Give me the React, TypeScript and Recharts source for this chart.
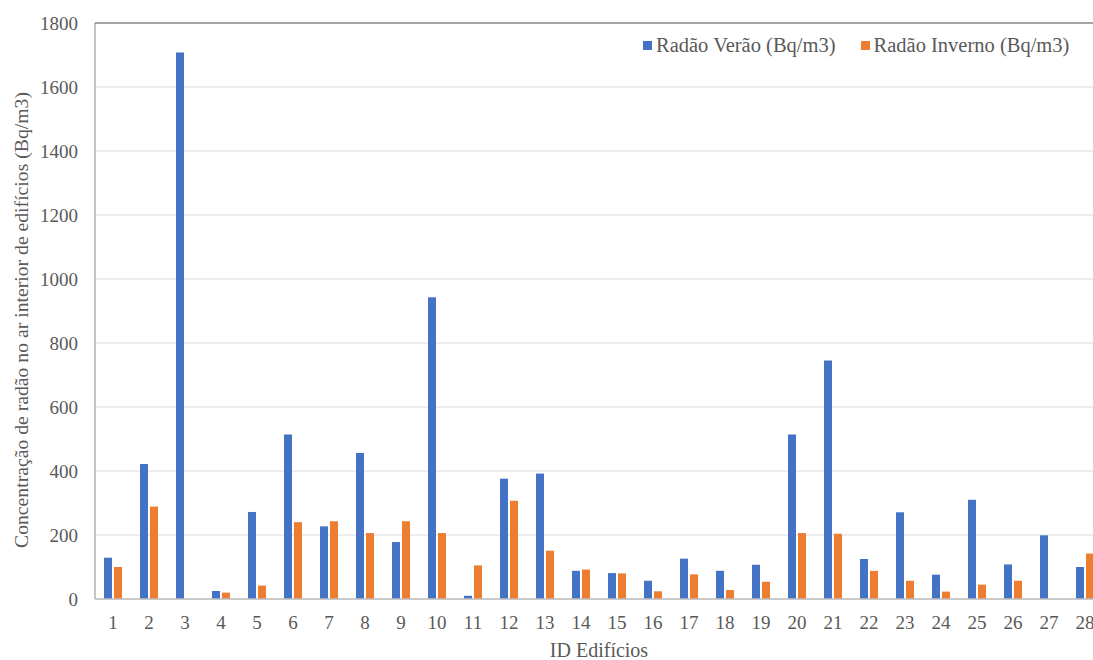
import React from "react"
import {
  BarChart, Bar, XAxis, YAxis, CartesianGrid, ReferenceLine
} from "recharts"

// ID dos edifícios e concentrações (Bq/m3)
const edificios = [
  "1", "2", "3", "4", "5", "6", "7", "8", "9", "10", "11", "12", "13", "14",
  "15", "16", "17", "18", "19", "20", "21", "22", "23", "24", "25", "26", "27", "28",
]
const radaoVerao = [
  129, 422, 1708, 25, 272, 514, 227, 456, 178, 943, 10, 376, 392, 88,
  81, 57, 126, 88, 107, 514, 745, 125, 271, 76, 310, 108, 199, 100,
]
const radaoInverno = [
  100, 289, 0, 20, 42, 240, 243, 206, 243, 206, 105, 307, 151, 92,
  80, 24, 77, 28, 54, 206, 204, 88, 57, 23, 45, 57, 0, 142,
]
const yTicks = [0, 200, 400, 600, 800, 1000, 1200, 1400, 1600, 1800]

const serieVerao = "Radão Verão (Bq/m3)"
const serieInverno = "Radão Inverno (Bq/m3)"

const FONT = "'Liberation Serif', 'Times New Roman', serif"
const GREY = "#595959"
const BLUE = "#4472c4"
const ORANGE = "#ed7d31"

const data = edificios.map((id, i) => ({
  id,
  [serieVerao]: radaoVerao[i],
  [serieInverno]: radaoInverno[i],
}))

function LegendBox() {
  const items = [
    { name: serieVerao, color: BLUE },
    { name: serieInverno, color: ORANGE },
  ]
  return (
    <div style={{
      position: "absolute", left: 643, top: 33, display: "flex", gap: 25,
      fontFamily: FONT, fontSize: 20.5, color: GREY, lineHeight: "24px",
    }}>
      {items.map((it) => (
        <div key={it.name} style={{ display: "flex", alignItems: "center" }}>
          <span style={{ width: 9, height: 9, background: it.color, marginRight: 4, display: "inline-block" }} />
          {it.name}
        </div>
      ))}
    </div>
  )
}

export default function App() {
  return (
    <div style={{ position: "fixed", left: 0, top: 0, width: 1093, height: 660, overflow: "hidden", background: "#fff" }}>
      <BarChart
        width={1104}
        height={660}
        data={data}
        margin={{ top: 23, right: 1, bottom: 0, left: 0 }}
        barGap={2}
        barCategoryGap={9}
      >
        <CartesianGrid vertical={false} stroke="#d9d9d9" />
        <XAxis
          dataKey="id"
          height={61}
          tickLine={false}
          tickSize={0}
          tickMargin={17}
          axisLine={{ stroke: "#bfbfbf", strokeWidth: 1.5 }}
          tick={{ fontSize: 19, fill: GREY, fontFamily: FONT }}
          interval={0}
          label={{ value: "ID Edifícios", position: "insideBottom", offset: 3, fill: GREY, fontSize: 20, fontFamily: FONT }}
        />
        <YAxis
          width={95}
          domain={[0, 1800]}
          ticks={yTicks}
          tickLine={false}
          tickSize={0}
          tickMargin={17}
          axisLine={{ stroke: "#8c8c8c" }}
          tick={{ fontSize: 19, fill: GREY, fontFamily: FONT }}
          label={{
            value: "Concentração de radão no ar interior de edifícios (Bq/m3)",
            angle: -90,
            position: "insideLeft",
            offset: 21,
            dy: 9,
            fill: GREY,
            fontSize: 19.7,
            fontFamily: FONT,
            style: { textAnchor: "middle" },
          }}
        />
        <ReferenceLine y={1800} stroke="#8c8c8c" strokeWidth={1.5} />
        <Bar dataKey={serieVerao} fill={BLUE} barSize={8} isAnimationActive={false} />
        <Bar dataKey={serieInverno} fill={ORANGE} barSize={8} isAnimationActive={false} />
      </BarChart>
      <LegendBox />
    </div>
  )
}
